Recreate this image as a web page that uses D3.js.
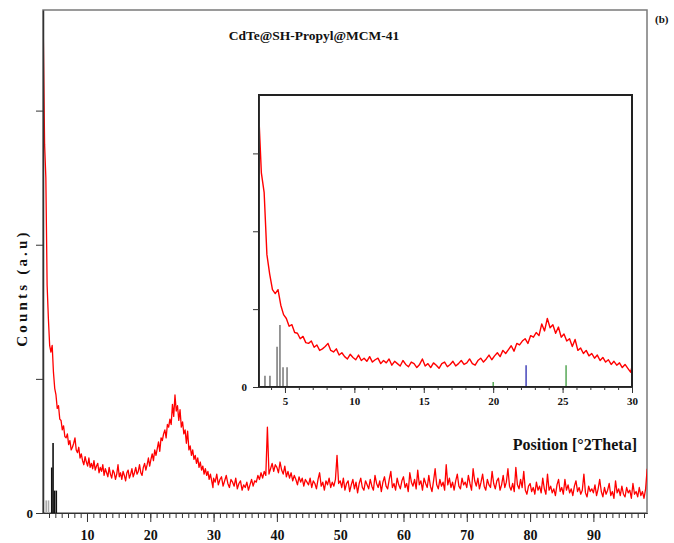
<!DOCTYPE html>
<html lang="en">
<head>
    <meta charset="UTF-8">
    <script type="text/javascript" src="https://d3js.org/d3.v7.min.js"></script>
    <title>CdTe@SH-Propyl@MCM-41 XRD</title>
    <style>
        body { margin: 0; background: #fff; }
        text { font-family: "Liberation Serif", "Times New Roman", serif; font-weight: bold; fill: #111; }
        .axis path, .axis line { stroke: #333; }
        .axis text { font-family: "Liberation Serif", serif; font-weight: bold; }
    </style>
</head>
<body>
    <svg width="674" height="543"></svg>
    <script>
        // scan 1: 3.1 .. 29.9 °2θ, step 0.2
        const scanAStart = 3.1, scanAStep = 0.2;
        const countsA = [
            3560,2750,2500,1700,1450,1250,1200,1250,1050,930,   // 3.1
            880,780,800,700,690,620,650,570,560,590,            // 5.1
            510,540,470,490,520,560,470,450,490,410,            // 7.1
            440,390,360,420,380,350,410,340,370,330,            // 9.1
            390,320,350,370,300,340,310,360,280,330,            // 11.1
            300,270,340,290,260,320,300,250,290,360,            // 13.1
            270,300,250,310,280,240,300,320,260,290,            // 15.1
            330,270,300,340,290,310,360,300,280,340,            // 17.1
            370,320,360,410,350,400,440,390,470,430,            // 19.1
            480,530,460,560,540,590,620,560,660,640,            // 21.1
            700,660,810,720,880,760,800,690,770,640,            // 23.1
            680,590,620,520,610,470,500,430,470,400,            // 25.1
            430,370,410,340,380,320,350,290,330,280,            // 27.1
            310,250,290,240,190                                 // 29.1
        ];
        // scan 2: 30.0 .. 98.5 °2θ, step 0.25
        const scanBStart = 30.0, scanBStep = 0.25;
        const countsB = [
            260,230,290,210,250,270,200,240,280,220,190,250,230,200,260,180,220,240,170,210,   // 30
            190,230,170,210,250,200,240,230,280,250,300,260,310,280,640,290,330,370,310,360,   // 35
            340,300,380,320,290,350,270,310,260,300,240,280,250,210,270,230,260,200,250,230,   // 40
            210,260,190,240,220,180,250,300,200,230,170,240,210,260,190,230,200,250,430,220,   // 45
            240,190,260,170,220,240,160,210,250,180,230,150,220,260,190,170,240,210,180,250,   // 50
            200,170,280,220,190,240,160,230,270,200,180,250,310,190,220,170,260,210,180,240,   // 55
            270,190,220,160,300,230,200,250,180,320,210,240,170,260,220,190,280,200,160,240,   // 60
            330,210,180,250,200,230,170,360,210,260,190,230,170,240,290,200,180,260,210,230,   // 65
            190,280,220,170,330,240,200,260,180,230,290,200,170,250,210,190,310,220,180,240,   // 70
            260,170,210,280,190,230,330,200,170,220,160,340,210,180,250,190,310,170,140,200,   // 75
            220,160,190,140,230,170,200,150,260,180,140,290,170,200,150,180,130,210,250,160,   // 80
            190,140,250,170,210,150,180,130,200,240,160,190,140,170,290,150,120,200,160,180,   // 85
            150,210,130,180,250,160,120,190,140,170,220,130,160,110,240,150,180,130,200,140,   // 90
            120,190,150,170,110,220,140,160,120,190,130,160,110,180,330                        // 95
        ];

        // reference pattern sticks (relative intensity)
        const stickPos = [3.56, 3.92, 4.43, 4.64, 4.86, 5.15];
        const stickRel = [18, 18, 65, 100, 32, 32];
        const stickColMain = ["#aaa", "#aaa", "#111", "#111", "#111", "#111"];
        const insetRefPos = [20.0, 22.37, 25.25];
        const insetRefRel = [8, 35, 35];
        const insetRefCol = ["#3c9a3c", "#2828b0", "#3c9a3c"];

        const mainXTicks = [10, 20, 30, 40, 50, 60, 70, 80, 90];
        const insetXTicks = [5, 10, 15, 20, 25, 30];
        const yTicks = [0, 1000, 2000, 3000];

        const pattern = countsA.map((c, i) => ({t: scanAStart + i * scanAStep, c: c}))
            .concat(countsB.map((c, i) => ({t: scanBStart + i * scanBStep, c: c})));

        const svg = d3.select("svg");

        // ---------- main panel ----------
        const x = d3.scaleLinear().domain([3.05, 98.47]).range([43, 647]);
        const y = d3.scaleLinear().domain([0, 3750]).range([513, 10]);

        svg.append("rect")
            .attr("x", 43).attr("y", 10).attr("width", 604).attr("height", 503)
            .attr("fill", "none").attr("stroke", "#7a7a7a").attr("stroke-width", 1.5);

        svg.append("defs").append("clipPath").attr("id", "clipMain")
            .append("rect").attr("x", 43).attr("y", 10).attr("width", 604).attr("height", 503);

        let hMain = d3.scaleLinear().domain([0, 100]).range([0, 70]);
        svg.append("g").selectAll("line")
            .data(stickPos).enter().append("line")
            .attr("x1", d => x(d)).attr("x2", d => x(d))
            .attr("y1", y(0)).attr("y2", (d, i) => y(0) - hMain(stickRel[i]))
            .attr("stroke", (d, i) => stickColMain[i]).attr("stroke-width", 1.6);

        let line = d3.line().x(d => x(d.t)).y(d => y(d.c));
        svg.append("path")
            .datum(pattern)
            .attr("clip-path", "url(#clipMain)")
            .attr("d", line)
            .attr("fill", "none").attr("stroke", "#ff0000").attr("stroke-width", 1.3)
            .attr("stroke-linejoin", "round");

        svg.append("g").attr("class", "axis")
            .attr("transform", "translate(0,513)")
            .call(d3.axisBottom(x).tickValues(d3.range(4, 99)).tickSize(5).tickFormat("").tickSizeOuter(0));
        svg.append("g").attr("class", "axis")
            .attr("transform", "translate(0,513)")
            .call(d3.axisBottom(x).tickValues(mainXTicks).tickSize(9).tickPadding(8).tickSizeOuter(0))
            .selectAll("text").style("font-size", "14px");

        let yAx = svg.append("g").attr("class", "axis")
            .attr("transform", "translate(43,0)")
            .call(d3.axisLeft(y).tickValues(yTicks).tickSize(7).tickPadding(3).tickSizeOuter(0)
                .tickFormat(d => d === 0 ? "0" : ""));
        yAx.select(".domain").attr("stroke", "#8a8a8a").attr("stroke-width", 1.5);
        yAx.selectAll("text").style("font-size", "13px");

        // ---------- inset ----------
        const xi = d3.scaleLinear().domain([3.13, 30]).range([259, 632]);
        const yi = d3.scaleLinear().domain([0, 3750]).range([387, 95]);

        svg.append("rect")
            .attr("x", 259).attr("y", 95).attr("width", 373).attr("height", 292)
            .attr("fill", "#fff");

        svg.select("defs").append("clipPath").attr("id", "clipInset")
            .append("rect").attr("x", 259).attr("y", 95).attr("width", 373).attr("height", 292);

        let hInset = d3.scaleLinear().domain([0, 100]).range([0, 62]);
        svg.append("g").selectAll("line")
            .data(stickPos).enter().append("line")
            .attr("x1", d => xi(d)).attr("x2", d => xi(d))
            .attr("y1", yi(0)).attr("y2", (d, i) => yi(0) - hInset(stickRel[i]))
            .attr("stroke", "#555").attr("stroke-width", 1.2);
        svg.append("g").selectAll("line")
            .data(insetRefPos).enter().append("line")
            .attr("x1", d => xi(d)).attr("x2", d => xi(d))
            .attr("y1", yi(0)).attr("y2", (d, i) => yi(0) - hInset(insetRefRel[i]))
            .attr("stroke", (d, i) => insetRefCol[i]).attr("stroke-width", 1.3);

        let lineI = d3.line().x(d => xi(d.t)).y(d => yi(d.c));
        svg.append("path")
            .datum(pattern.filter(d => d.t <= 30.5))
            .attr("clip-path", "url(#clipInset)")
            .attr("d", lineI)
            .attr("fill", "none").attr("stroke", "#ff0000").attr("stroke-width", 1.4)
            .attr("stroke-linejoin", "round");

        svg.append("rect")
            .attr("x", 259).attr("y", 95).attr("width", 373).attr("height", 292)
            .attr("fill", "none").attr("stroke", "#222").attr("stroke-width", 2);

        svg.append("g").attr("class", "axis")
            .attr("transform", "translate(0,387)")
            .call(d3.axisBottom(xi).tickValues(d3.range(4, 30)).tickSize(3).tickFormat("").tickSizeOuter(0));
        svg.append("g").attr("class", "axis")
            .attr("transform", "translate(0,387)")
            .call(d3.axisBottom(xi).tickValues(insetXTicks).tickSize(6).tickPadding(4).tickSizeOuter(0))
            .selectAll("text").style("font-size", "11px");

        svg.append("g").attr("class", "axis")
            .attr("transform", "translate(259,0)")
            .call(d3.axisLeft(yi).tickValues(yTicks).tickSize(6).tickPadding(6).tickSizeOuter(0)
                .tickFormat(d => d === 0 ? "0" : ""))
            .selectAll("text").style("font-size", "11px");

        // ---------- labels ----------
        svg.append("text").attr("x", 314).attr("y", 40)
            .attr("text-anchor", "middle").attr("font-size", 13.5)
            .text("CdTe@SH-Propyl@MCM-41");
        svg.append("text").attr("x", 655).attr("y", 23)
            .attr("font-size", 11).text("(b)");
        svg.append("text").attr("x", 637).attr("y", 450)
            .attr("text-anchor", "end").attr("font-size", 16)
            .text("Position [°2Theta]");
        svg.append("text")
            .attr("transform", "translate(27,288) rotate(-90)")
            .attr("text-anchor", "middle").attr("font-size", 15)
            .attr("letter-spacing", 3.2)
            .text("Counts (a.u)");
    </script>
</body>
</html>
